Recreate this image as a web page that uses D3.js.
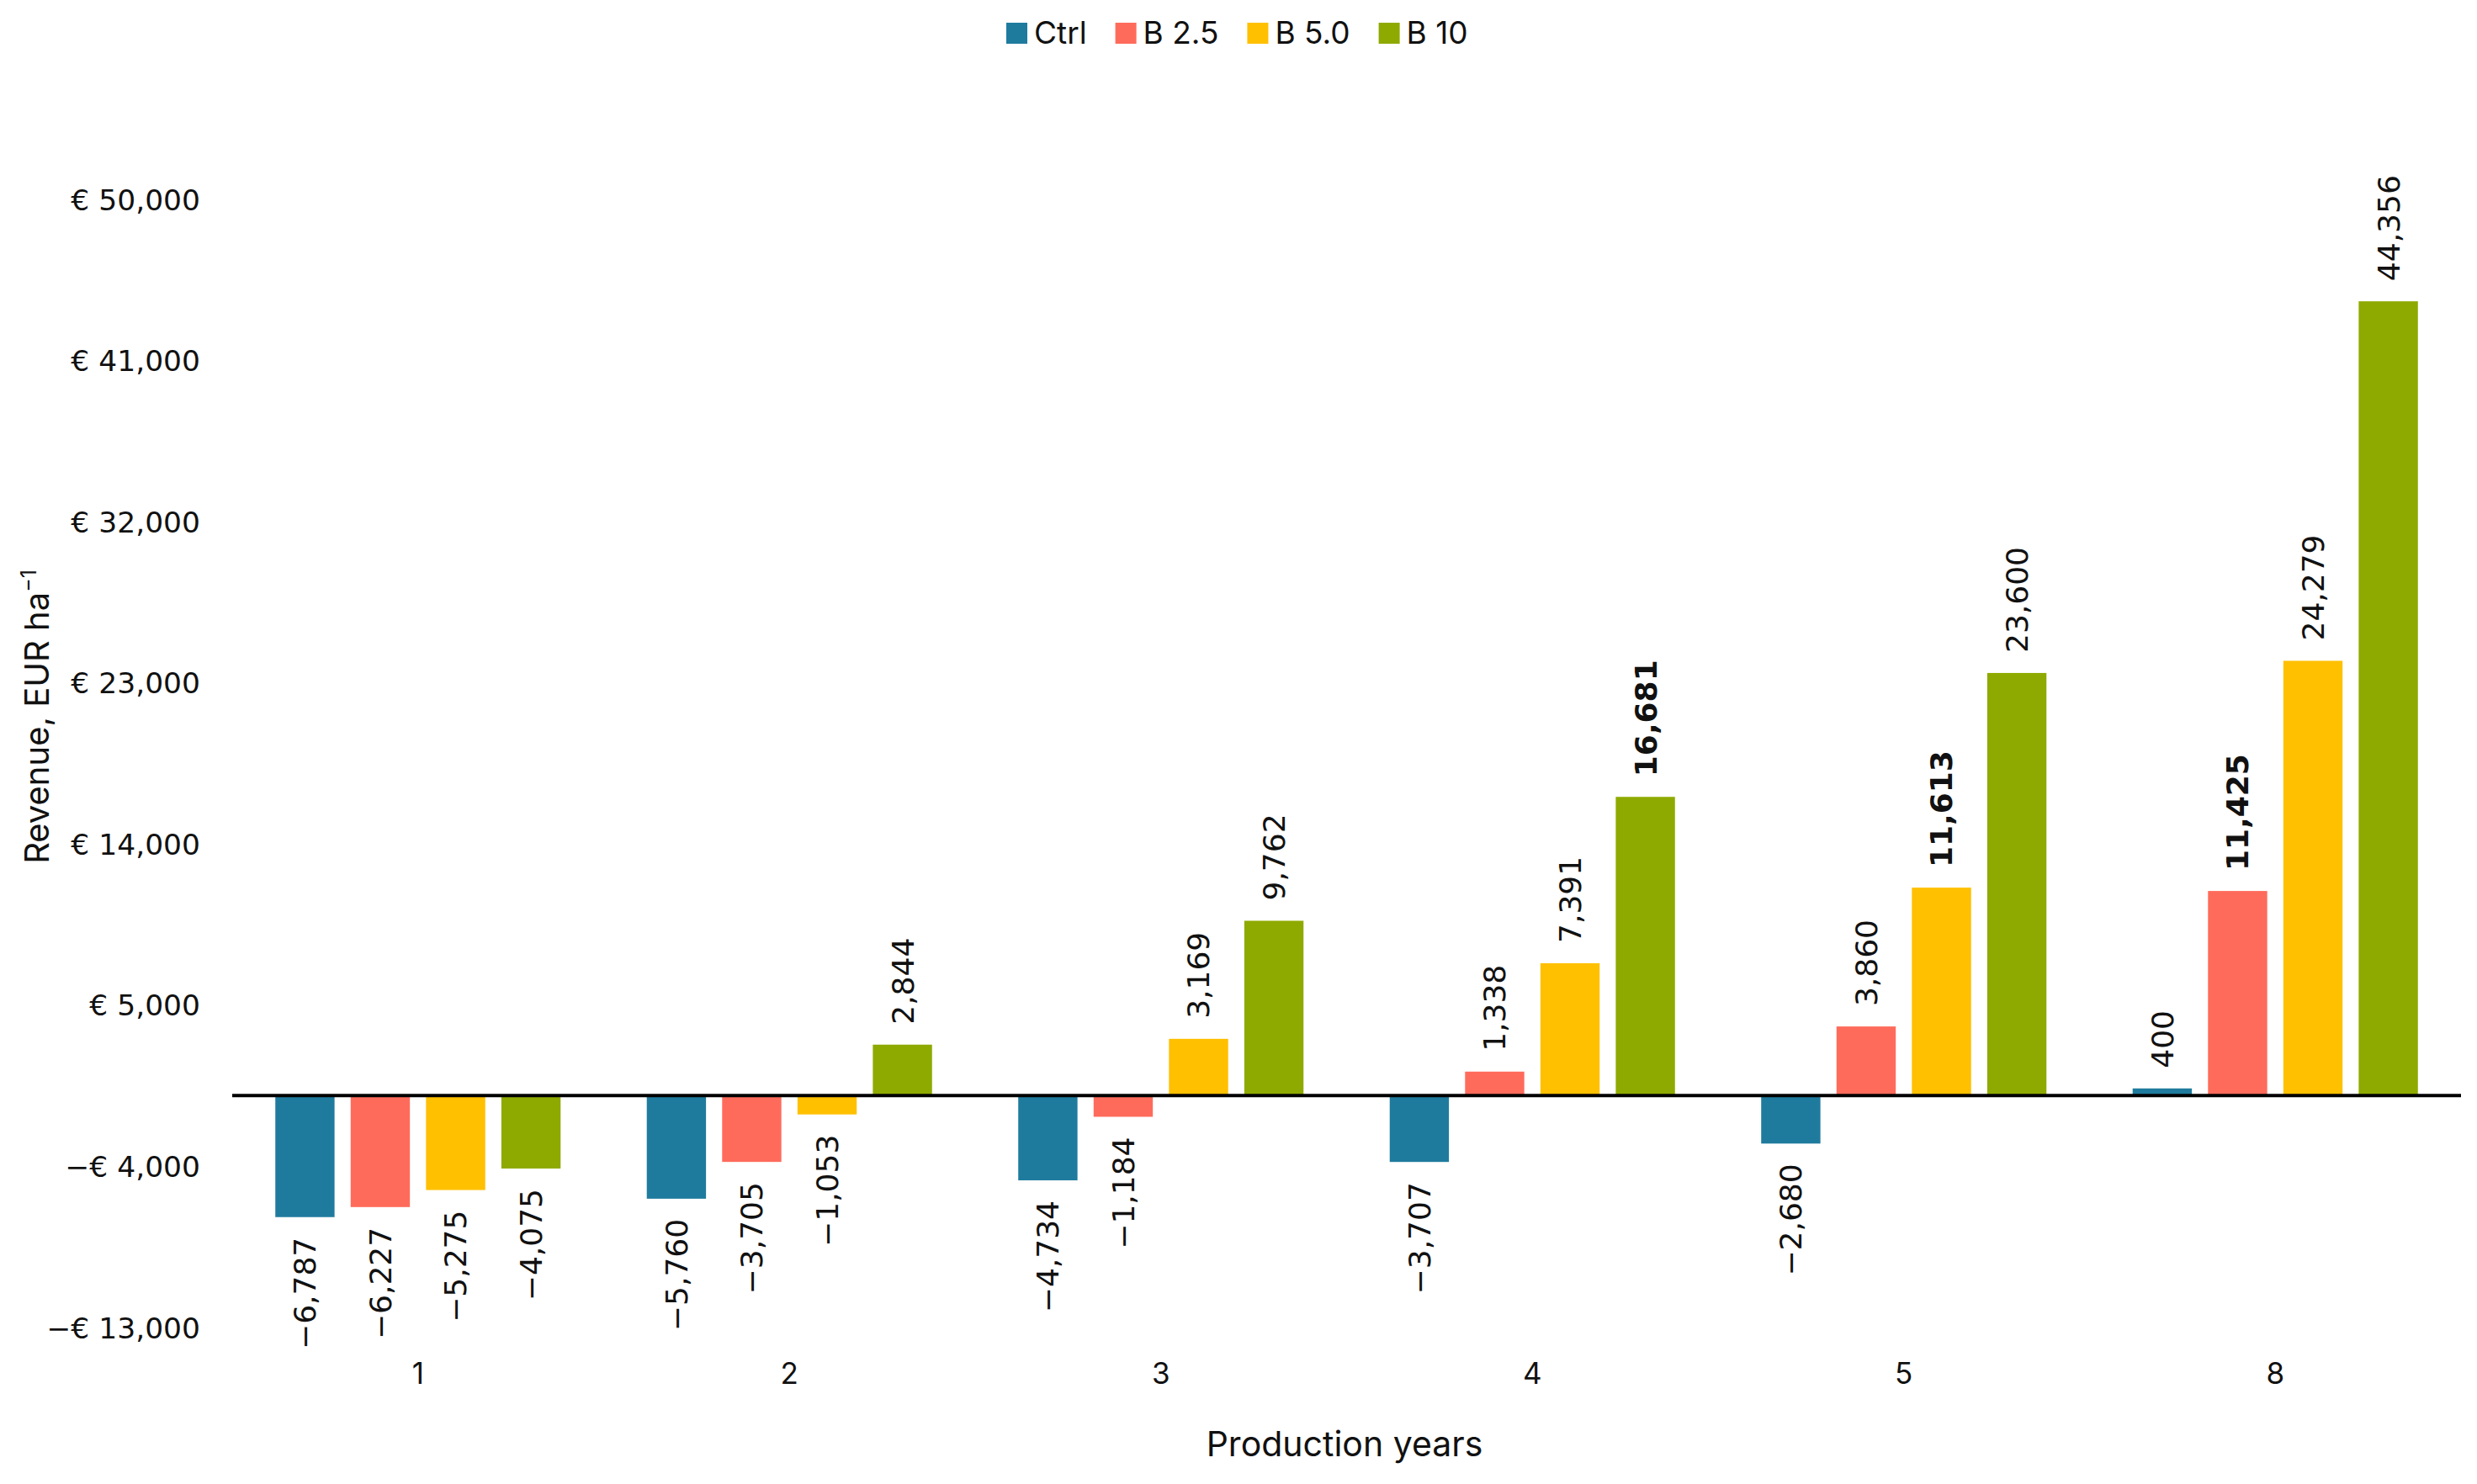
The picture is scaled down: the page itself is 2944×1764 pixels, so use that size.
<!DOCTYPE html>
<html>
<head>
<meta charset="utf-8">
<script src="https://cdn.jsdelivr.net/npm/d3@7"></script>
<style>
  html, body { margin: 0; padding: 0; background: #fff; }
  svg { display: block; }
</style>
</head>
<body>
<div id="chart"></div>
<script>
const years = ["1", "2", "3", "4", "5", "8"]
const series = ["Ctrl", "B 2.5", "B 5.0", "B 10"]
const colors = ["#1f7b9e", "#ff6b5b", "#ffc000", "#8eaa00"]

// revenue per treatment, one entry per production year
const ctrl = [-6787, -5760, -4734, -3707, -2680, 400]
const b25 = [-6227, -3705, -1184, 1338, 3860, 11425]
const b50 = [-5275, -1053, 3169, 7391, 11613, 24279]
const b10 = [-4075, 2844, 9762, 16681, 23600, 44356]
const values = [ctrl, b25, b50, b10]

// labels printed in bold in the figure
const boldLabels = [[3, "B 10"], [4, "B 5.0"], [5, "B 2.5"]]

const yTicks = [-13000, -4000, 5000, 14000, 23000, 32000, 41000, 50000]

const width = 2944
const height = 1764

const svg = d3.select("#chart")
  .append("svg")
  .attr("width", width)
  .attr("height", height)

const x0 = d3.scaleBand()
  .domain(years)
  .range([276, 2925])
  .padding(0)

const x1 = d3.scaleBand()
  .domain(series)
  .range([0, x0.bandwidth()])
  .paddingInner(0.214)
  .paddingOuter(0.572)

const y = d3.scaleLinear()
  .domain([-13000, 50000])
  .range([1579, 238])

const color = d3.scaleOrdinal().domain(series).range(colors)

const rows = []
years.forEach((yr, i) => {
  series.forEach((s, j) => {
    rows.push({ year: yr, idx: i, series: s, value: values[j][i] })
  })
})

const isBold = d => boldLabels.some(([i, s]) => i === d.idx && s === d.series)

// Y axis (labels only)
const euro = d3.format(",")
const yAxis = d3.axisLeft(y)
  .tickValues(yTicks)
  .tickSize(0)
  .tickPadding(0)
  .tickFormat(v => (v < 0 ? "\u2212€ " : "€ ") + euro(Math.abs(v)))

svg.append("g")
  .attr("transform", "translate(238,0)")
  .call(yAxis)
  .call(g => g.select(".domain").remove())
  .selectAll("text")
  .attr("font-family", "DejaVu Sans")
  .attr("font-size", 34.5)
  .attr("fill", "#111")

// X axis (labels only)
const xAxis = d3.axisBottom(x0).tickSize(0).tickPadding(0)
svg.append("g")
  .attr("transform", "translate(0,1620)")
  .call(xAxis)
  .call(g => g.select(".domain").remove())
  .selectAll("text")
  .attr("font-family", "Inter")
  .attr("font-size", 35)
  .attr("fill", "#111")

// Bars
const groups = svg.append("g")
  .selectAll("g")
  .data(years)
  .join("g")
  .attr("transform", d => `translate(${x0(d)},0)`)

groups.selectAll("rect")
  .data(yr => rows.filter(r => r.year === yr))
  .join("rect")
  .attr("x", d => x1(d.series))
  .attr("width", x1.bandwidth())
  .attr("y", d => y(Math.max(0, d.value)))
  .attr("height", d => Math.abs(y(d.value) - y(0)))
  .attr("fill", d => color(d.series))

// Zero line
svg.append("line")
  .attr("x1", x0.range()[0])
  .attr("x2", x0.range()[1])
  .attr("y1", y(0))
  .attr("y2", y(0))
  .attr("stroke", "#000")
  .attr("stroke-width", 4)

// Value labels, rotated
const gap = 24
groups.selectAll("text.val")
  .data(yr => rows.filter(r => r.year === yr))
  .join("text")
  .attr("class", "val")
  .attr("transform", d => {
    const cx = x1(d.series) + x1.bandwidth() / 2
    const yy = d.value >= 0 ? y(d.value) - gap : y(d.value) + gap
    return `translate(${cx},${yy}) rotate(-90)`
  })
  .attr("text-anchor", d => d.value >= 0 ? "start" : "end")
  .attr("dy", "0.36em")
  .attr("font-family", "DejaVu Sans")
  .attr("font-size", 36)
  .attr("font-weight", d => isBold(d) ? "bold" : "normal")
  .attr("fill", "#111")
  .text(d => (d.value < 0 ? "\u2212" : "") + euro(Math.abs(d.value)))

// Axis titles
svg.append("text")
  .attr("x", 1598)
  .attr("y", 1731)
  .attr("text-anchor", "middle")
  .attr("font-family", "Inter")
  .attr("font-size", 41)
  .attr("fill", "#111")
  .text("Production years")

const yTitle = svg.append("text")
  .attr("transform", "translate(58,852) rotate(-90)")
  .attr("text-anchor", "middle")
  .attr("font-family", "Inter")
  .attr("font-size", 40)
  .attr("fill", "#111")
yTitle.append("tspan").text("Revenue, EUR ha")
yTitle.append("tspan").attr("dy", -15).attr("font-size", 25).text("\u22121")

// Legend
const legend = svg.append("g").attr("transform", "translate(1196,39)")
let lx = 0
series.forEach((s, i) => {
  const item = legend.append("g").attr("transform", `translate(${lx},0)`)
  item.append("rect")
    .attr("x", 0).attr("y", -12)
    .attr("width", 25).attr("height", 25)
    .attr("fill", colors[i])
  const t = item.append("text")
    .attr("x", 33)
    .attr("dy", "0.36em")
    .attr("font-family", "Inter")
    .attr("font-size", 37)
    .attr("fill", "#111")
    .text(s)
  lx += 33 + t.node().getComputedTextLength() + 34
})
</script>
</body>
</html>
